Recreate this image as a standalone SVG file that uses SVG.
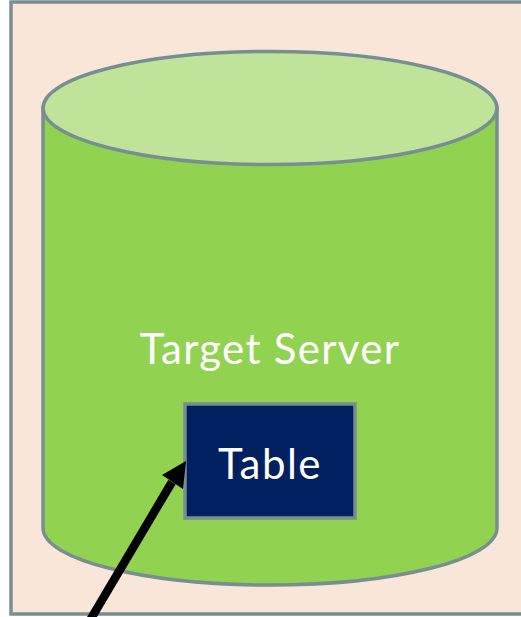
<svg xmlns="http://www.w3.org/2000/svg" width="521" height="617" viewBox="0 0 521 617">
<style>
.s{stroke:#778f90;stroke-width:3.500}
.t{fill:#fff;font-family:"Lato","Liberation Sans",sans-serif;text-anchor:middle}
</style>
<rect width="521" height="617" fill="#fff"/>
<g id="frame"><rect class="s" x="11" y="2" width="520" height="612" fill="#f8e6d9"/></g>
<g id="target-server">
<path class="s" fill="#92d251" d="M43 108V528C43 559.500 144.600 585 270 585S497 559.500 497 528V108Z"/>
<ellipse class="s" cx="270" cy="108" rx="227" ry="56.500" fill="#bfe399"/>
<text class="t" x="270" y="364" font-size="42" letter-spacing="1.300">Target Server</text>
</g>
<g id="table">
<rect class="s" x="185" y="404" width="170" height="114" fill="#00205f"/>
<text class="t" x="270" y="479" font-size="42" letter-spacing="1.500">Table</text>
</g>
<g id="connectors">
<line x1="89" y1="622" x2="172" y2="482" stroke="#000" stroke-width="8.500"/>
<polygon points="186,461 162,475 183,489" fill="#000"/>
</g>
</svg>
